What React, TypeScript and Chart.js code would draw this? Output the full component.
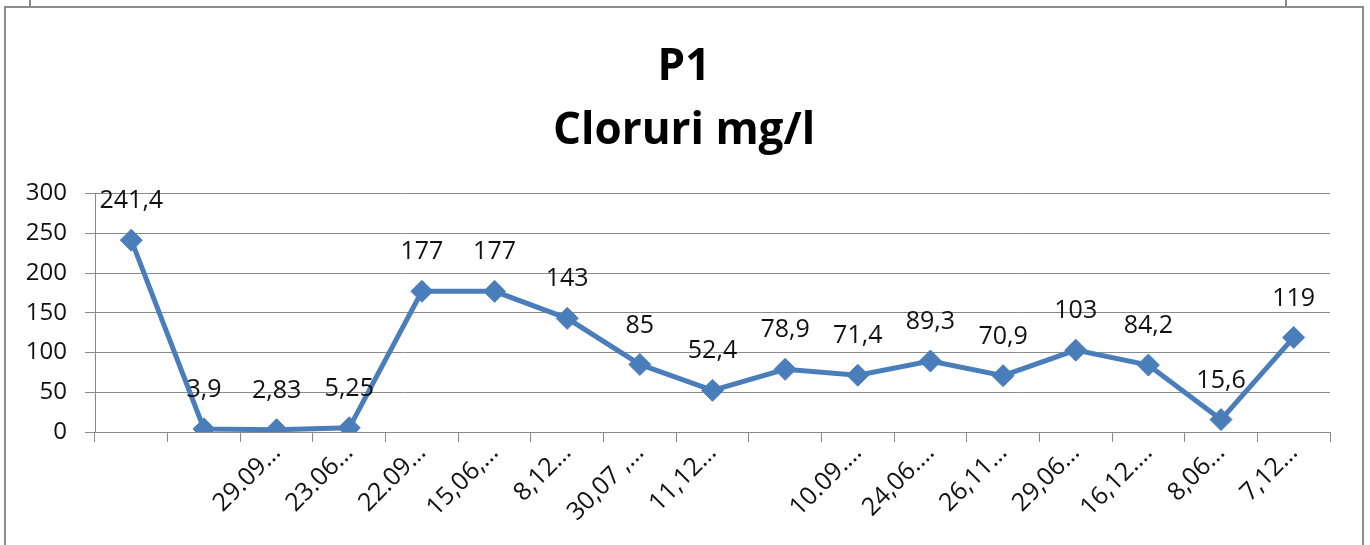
import React, { useEffect, useRef } from "react";
import { Chart, registerables } from "chart.js";

Chart.register(...registerables);

const titleLines = ["P1", "Cloruri mg/l"];
const categories = [
  "", "", "29.09…", "23.06…", "22.09…", "15,06,…", "8,12…", "30,07 ,…", "11,12…",
  "", "10.09.…", "24,06.…", "26,11…", "29,06…", "16,12.…", "8,06…", "7,12…",
];
const cloruri = [241.4, 3.9, 2.83, 5.25, 177, 177, 143, 85, 52.4, 78.9, 71.4, 89.3, 70.9, 103, 84.2, 15.6, 119];
const yMin = 0;
const yMax = 300;
const yStep = 50;

const FONT = "'Open Sans', 'DejaVu Sans', sans-serif";
const BLUE = "#4A7EBB";
const GRID = "#8A8A8A";

const valueLabels = {
  id: "valueLabels",
  afterDatasetsDraw(chart: any) {
    const ctx = chart.ctx;
    const meta = chart.getDatasetMeta(0);
    const data = chart.data.datasets[0].data as number[];
    ctx.save();
    ctx.font = `25px ${FONT}`;
    ctx.fillStyle = "#111";
    ctx.textAlign = "center";
    ctx.textBaseline = "middle";
    meta.data.forEach((pt: any, i: number) => {
      const txt = String(data[i]).replace(".", ",");
      ctx.fillText(txt, pt.x, pt.y - 39);
    });
    ctx.restore();
  },
};

export default function App() {
  const ref = useRef<HTMLCanvasElement | null>(null);

  useEffect(() => {
    if (!ref.current) return;
    const chart = new Chart(ref.current, {
      type: "line",
      data: {
        labels: categories,
        datasets: [
          {
            data: cloruri,
            borderColor: BLUE,
            backgroundColor: BLUE,
            borderWidth: 5,
            pointStyle: "rectRot",
            pointRadius: 11,
            pointBorderWidth: 1,
            pointBackgroundColor: BLUE,
            pointBorderColor: BLUE,
            tension: 0,
            fill: false,
          },
        ],
      },
      options: {
        responsive: false,
        animation: false,
        layout: { padding: { left: 0, right: 2, top: 0, bottom: 0 } },
        plugins: {
          legend: { display: false },
          tooltip: { enabled: false },
          title: {
            display: true,
            text: titleLines,
            color: "#000",
            font: { family: FONT, size: 44, weight: "bold", lineHeight: 1.45 },
            padding: { top: 36, bottom: 30 },
          },
        },
        scales: {
          x: {
            type: "category",
            offset: true,
            grid: {
              offset: true,
              drawOnChartArea: false,
              drawTicks: true,
              tickLength: 10,
              color: GRID,
            },
            border: { display: true, color: GRID, width: 1 },
            ticks: {
              autoSkip: false,
              maxRotation: 45,
              minRotation: 45,
              color: "#111",
              padding: -4,
              font: { family: FONT, size: 25 },
            },
            afterFit(scale: any) {
              scale.height = 113;
            },
          },
          y: {
            min: yMin,
            max: yMax,
            ticks: {
              stepSize: yStep,
              color: "#111",
              padding: 18,
              font: { family: FONT, size: 24 },
            },
            grid: {
              drawOnChartArea: true,
              drawTicks: true,
              tickLength: 10,
              color: GRID,
            },
            border: { display: true, color: GRID, width: 1 },
            afterFit(scale: any) {
              scale.width = 95;
            },
          },
          yRight: {
            position: "right",
            min: yMin,
            max: yMax,
            ticks: { display: false },
            grid: { display: false },
            border: { display: false },
            afterFit(scale: any) {
              scale.width = 38;
            },
          },
        },
      },
      plugins: [valueLabels],
    });
    return () => chart.destroy();
  }, []);

  const line = (s: React.CSSProperties) => (
    <div style={{ position: "absolute", background: "#8C8C8C", ...s }} />
  );

  return (
    <div style={{ position: "absolute", left: 0, top: 0, width: 1370, height: 545, background: "#fff", overflow: "hidden" }}>
      <canvas ref={ref} width={1370} height={545} style={{ position: "absolute", left: 0, top: 0 }} />
      {line({ left: 29, top: 0, width: 2, height: 8 })}
      {line({ left: 1285, top: 0, width: 2, height: 8 })}
      {line({ left: 4, top: 6, width: 1360, height: 2 })}
      {line({ left: 4, top: 6, width: 2, height: 539 })}
      {line({ left: 1362, top: 6, width: 2, height: 539 })}
    </div>
  );
}
